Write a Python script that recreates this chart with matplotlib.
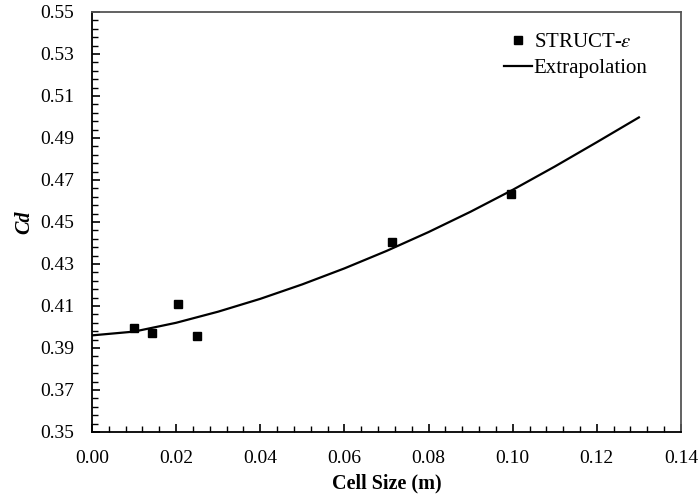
import matplotlib
matplotlib.use('Agg')
import matplotlib.pyplot as plt
import numpy as np
from matplotlib.ticker import MultipleLocator, FixedLocator, FormatStrFormatter

# cell size (m) vs drag coefficient, STRUCT-eps runs
cell_size = [0.0100, 0.0143, 0.0204, 0.0250, 0.0712, 0.0995]
cd_struct = [0.3995, 0.3970, 0.4110, 0.3955, 0.4405, 0.4635]

# extrapolation curve
extrap_x = [0.00, 0.01, 0.02, 0.03, 0.04, 0.05, 0.06, 0.07, 0.08, 0.09, 0.10, 0.11, 0.12, 0.13]
extrap_y = [0.3960, 0.3978, 0.4020, 0.4073, 0.4134, 0.4203, 0.4279, 0.4362, 0.4452,
            0.4549, 0.4653, 0.4764, 0.4880, 0.4998]

y_ticks = [0.35, 0.37, 0.39, 0.41, 0.43, 0.45, 0.47, 0.49, 0.51, 0.53, 0.55]

plt.rcParams['font.family'] = ['Liberation Serif', 'DejaVu Serif']
plt.rcParams['mathtext.fontset'] = 'stix'

fig = plt.figure(figsize=(6.99, 5.04), dpi=100)
ax = fig.add_axes([0.1316, 0.1429, 0.8426, 0.8333])

ax.plot(cell_size, cd_struct, 's', color='black', markersize=6, label='STRUCT-$\\varepsilon$')
ax.plot(extrap_x, extrap_y, '-', color='black', linewidth=1.6, label='Extrapolation')

ax.set_xlim(0, 0.14)
ax.set_ylim(0.35, 0.55)
ax.xaxis.set_major_locator(MultipleLocator(0.02))
ax.xaxis.set_minor_locator(MultipleLocator(0.004))
ax.yaxis.set_major_locator(FixedLocator(y_ticks))
ax.yaxis.set_minor_locator(FixedLocator(np.arange(0.35, 0.5501, 0.004)))
ax.xaxis.set_major_formatter(FormatStrFormatter('%.2f'))
ax.yaxis.set_major_formatter(FormatStrFormatter('%.2f'))
ax.tick_params(which='both', direction='in', top=False, right=False, labelsize=14)
ax.tick_params(which='major', length=6, width=1.2, pad=13)
ax.tick_params(which='minor', length=4, width=1.0)

for s in ['left', 'bottom']:
    ax.spines[s].set_linewidth(1.3)
for s in ['top', 'right']:
    ax.spines[s].set_color('#555555')
    ax.spines[s].set_linewidth(1.3)

ax.set_xlabel('Cell Size (m)', fontsize=14.5, fontweight='bold', labelpad=5)
ax.set_ylabel('Cd', fontsize=14.5, fontweight='bold', fontstyle='italic', labelpad=4)

ax.legend(loc='upper right', bbox_to_anchor=(0.975, 0.995), frameon=False, fontsize=15,
          handlelength=1.3, handletextpad=0.1, labelspacing=0.3)

fig.savefig('out.png', dpi=100)
